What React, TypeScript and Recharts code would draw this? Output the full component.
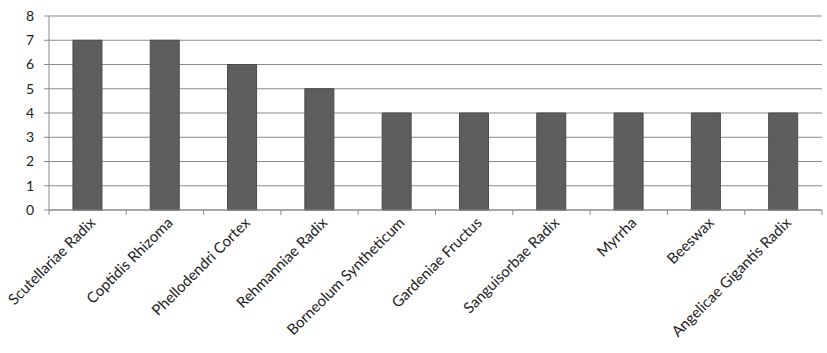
import React from 'react';
import { BarChart, Bar, XAxis, YAxis, CartesianGrid } from 'recharts';

// herb names along the bottom
const herbs = [
  'Scutellariae Radix',
  'Coptidis Rhizoma',
  'Phellodendri Cortex',
  'Rehmanniae Radix',
  'Borneolum Syntheticum',
  'Gardeniae Fructus',
  'Sanguisorbae Radix',
  'Myrrha',
  'Beeswax',
  'Angelicae Gigantis Radix',
];

const counts = [7, 7, 6, 5, 4, 4, 4, 4, 4, 4];

const yTicks = [0, 1, 2, 3, 4, 5, 6, 7, 8];

const chartData = herbs.map((name, i) => ({ name, count: counts[i] }));

const FONT = 'Lato, "Open Sans", sans-serif';
const AXIS = '#8a8a8a';

// rotated label plus the Excel-style tick marks between categories
function HerbTick(props: any) {
  const { x, y, payload, index, visibleTicksCount, width } = props;
  const count = visibleTicksCount || herbs.length;
  const band = width ? width / count : 77.3;
  const left = x - band / 2;
  const right = x + band / 2;
  return (
    <g>
      <line x1={left} y1={y} x2={left} y2={y + 5} stroke={AXIS} />
      {index === count - 1 && <line x1={right} y1={y} x2={right} y2={y + 5} stroke={AXIS} />}
      <g transform={`translate(${x + 5},${y + 10})`}>
        <text
          x={0}
          y={0}
          dy="0.35em"
          textAnchor="end"
          transform="rotate(-45)"
          fill="#222"
          fontSize={15}
          fontFamily={FONT}
        >
          {payload.value}
        </text>
      </g>
    </g>
  );
}

export default function App() {
  return (
    <div style={{ position: 'absolute', left: 0, top: 0, background: '#fff' }}>
      <BarChart
        width={827}
        height={353}
        data={chartData}
        margin={{ top: 16, right: 5, left: 0, bottom: 0 }}
        barCategoryGap="31%"
      >
        <CartesianGrid vertical={false} stroke={AXIS} strokeWidth={1.2} />
        <XAxis
          dataKey="name"
          interval={0}
          height={143}
          stroke={AXIS}
          tickLine={false}
          tickSize={0}
          tickMargin={0}
          tick={<HerbTick />}
        />
        <YAxis
          width={49}
          domain={[0, 8]}
          ticks={yTicks}
          interval={0}
          stroke={AXIS}
          tickSize={5}
          tickMargin={10}
          tick={{ fill: '#222', fontSize: 14, fontFamily: FONT }}
        />
        <Bar dataKey="count" fill="#5e5e5e" stroke="#4a4a4a" strokeWidth={1} isAnimationActive={false} />
      </BarChart>
    </div>
  );
}
